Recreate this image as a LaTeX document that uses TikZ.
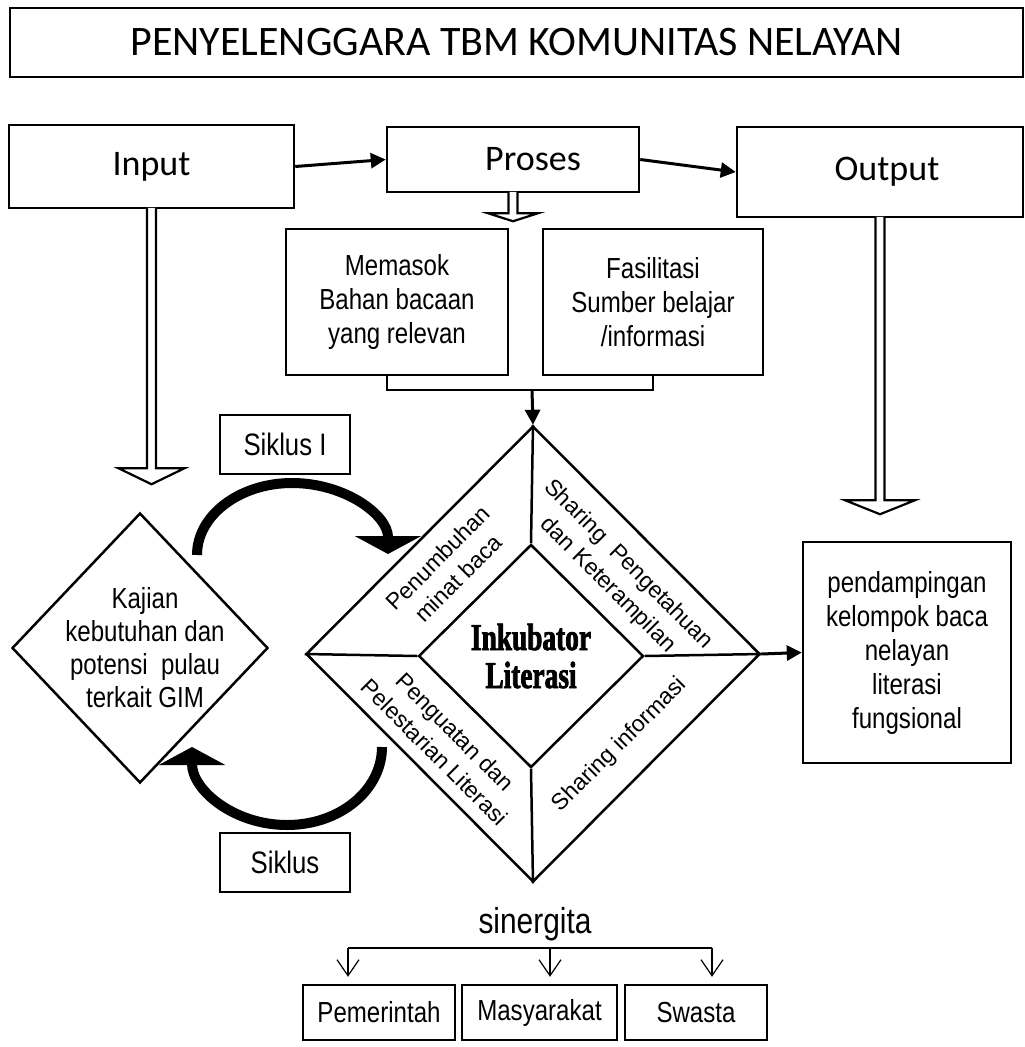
\documentclass[tikz,border=0pt]{standalone}
\usepackage{fontspec}
\setmainfont{Liberation Sans}
\newfontfamily\narrowfont[FakeStretch=0.83]{Liberation Sans}
\newfontfamily\calfont{Carlito}
\newfontfamily\incfont[FakeStretch=0.72, FakeBold=2]{Liberation Serif}
\usetikzlibrary{arrows.meta, shapes.geometric, calc}
\tikzset{
  every picture/.style={line width=2.5pt},
  box/.style={draw, line width=2.5pt, inner sep=0pt, align=center, font=\narrowfont\fontsize{29}{34}\selectfont},
  headbox/.style={box, font=\calfont\fontsize{36}{40}\selectfont},
  rhomb/.style={draw, diamond, line width=2.5pt, inner sep=0pt},
  body/.style={font=\narrowfont\fontsize{29}{33}\selectfont, align=center},
  side/.style={font=\fontsize{23}{29}\selectfont, align=center},
  arrow/.style={-{Triangle[length=15pt,width=15pt]}, line width=3pt},
  hollow/.style={draw, fill=white, line width=2.2pt, line join=miter},
  curl/.style={line width=10pt, -{Triangle[length=18pt,width=66pt]}},
  split/.style={line width=1.2pt, -{Straight Barb[length=16pt,width=22pt]}},
}
% outlined block arrow pointing down: start, tip, half width of head, head length
\newcommand{\hollowdown}[4]{%
  \draw[hollow] ($(#1)+(-4.5,-1.5)$) -- ($(#2)+(-4.5,-#4)$) -- ($(#2)+(-#3,-#4)$) -- (#2)
    -- ($(#2)+(#3,-#4)$) -- ($(#2)+(4.5,-#4)$) -- ($(#1)+(4.5,-1.5)$);}

\begin{document}
\begin{tikzpicture}[x=1pt, y=-1pt]
  \useasboundingbox (0,0) rectangle (1025,1047);
  % ---------- title
  \node[box, font=\calfont\fontsize{42}{48}\selectfont, minimum width=1013pt, minimum height=69pt] (title) at (516.5,42.5) {PENYELENGGARA TBM KOMUNITAS NELAYAN};
  % ---------- input / proses / output
  \node[headbox, minimum width=285pt, minimum height=83pt] (input) at (151.5,166.5) {Input};
  \node[headbox, minimum width=252pt, minimum height=65pt] (proses) at (513,159.5) {\hspace*{40pt}\raisebox{-4pt}{Proses}};
  \node[headbox, minimum width=286pt, minimum height=90pt] (output) at (880,172) {\hspace*{14pt}Output};
  \draw[arrow] (input.east) -- (proses.west);
  \draw[arrow] (proses.east) -- (output.west);
  % ---------- proses boxes
  \node[box, minimum width=222pt, minimum height=146pt] (memasok) at (397,302) {Memasok\\Bahan bacaan\\yang relevan};
  \node[box, minimum width=220pt, minimum height=146pt] (fasilitasi) at (653,302) {Fasilitasi\\Sumber belajar\\/informasi};
  % ---------- inkubator
  \node[rhomb, minimum width=454pt, minimum height=456pt] (inku) at (533,654) {};
  \node[rhomb, minimum width=225pt, minimum height=223pt, align=center, font=\incfont\bfseries\fontsize{38}{38}\selectfont] (core) at (531,656) {Inkubator\\Literasi};
  \foreach \a in {north, south, east, west} \draw (inku.\a) -- (core.\a);
  \node[side, rotate=45] (tumbuh) at (448,568) {Penumbuhan\\minat baca};
  \node[side, rotate=-45] (sharePeng) at (618,575) {Sharing\ \ Pengetahuan\\dan Keterampilan};
  \node[side, rotate=-45] (kuat) at (445,742) {Penguatan dan\\Pelestarian Literasi};
  \node[side, rotate=45] (shareInfo) at (620,745) {Sharing informasi};
  \coordinate (join) at (532,390);
  \draw ($(memasok.south)+(-10,0)$) |- (join) -| (fasilitasi.south);
  \draw[arrow] (join) -- (inku.north);
  % ---------- kajian and siklus
  \node[rhomb, minimum width=256pt, minimum height=270pt, label={[body, xshift=5pt]center:Kajian\\kebutuhan dan\\potensi\ \ pulau\\terkait GIM}] (kajian) at (140,648) {};
  \node[box, font=\narrowfont\fontsize{31}{35}\selectfont, minimum width=130pt, minimum height=59pt] (siklusA) at (285,444.5) {Siklus I};
  \node[box, font=\narrowfont\fontsize{31}{35}\selectfont, minimum width=130pt, minimum height=59pt] (siklusB) at (285,862.5) {Siklus};
  \draw[curl] (197,555) .. controls (197,515) and (240,483) .. (292,483) .. controls (345,483) and (388,515) .. (388,554);
  \draw[curl] (382,747) .. controls (382,790) and (340,825) .. (287,825) .. controls (234,825) and (192,790) .. (192,747);
  % ---------- output side
  \node[box, minimum width=208pt, minimum height=221pt] (pendamping) at (907,652.5) {pendampingan\\kelompok baca\\nelayan\\literasi\\fungsional};
  \draw[arrow] (inku.east) -- (pendamping.west);
  % ---------- block arrows
  \coordinate (prosesTip) at ($(proses.south)+(0,28)$);
  \coordinate (inputTip) at ($(input.south)+(0,275)$);
  \coordinate (outputTip) at ($(output.south)+(0,296)$);
  \hollowdown{proses.south}{prosesTip}{25}{8}
  \hollowdown{input.south}{inputTip}{33}{16}
  \hollowdown{output.south}{outputTip}{35}{14}
  % ---------- sinergita
  \node[font=\narrowfont\fontsize{36}{40}\selectfont] (sinergi) at (535,924) {sinergita};
  \node[box, minimum width=152pt, minimum height=55pt] (pem) at (379,1012.5) {Pemerintah};
  \node[box, minimum width=155pt, minimum height=55pt] (mas) at (539.5,1012.5) {Masyarakat};
  \node[box, minimum width=142pt, minimum height=55pt] (swa) at (696,1012.5) {Swasta};
  \coordinate (forkL) at (348,948);
  \coordinate (forkM) at (550,948);
  \coordinate (forkR) at (712,948);
  \draw[line width=1.2pt] (forkL) -- (forkR);
  \foreach \c/\b in {forkL/pem, forkM/mas, forkR/swa}
    \draw[split, shorten >=7pt] (\c) -- (\c |- \b.north);
\end{tikzpicture}
\end{document}
